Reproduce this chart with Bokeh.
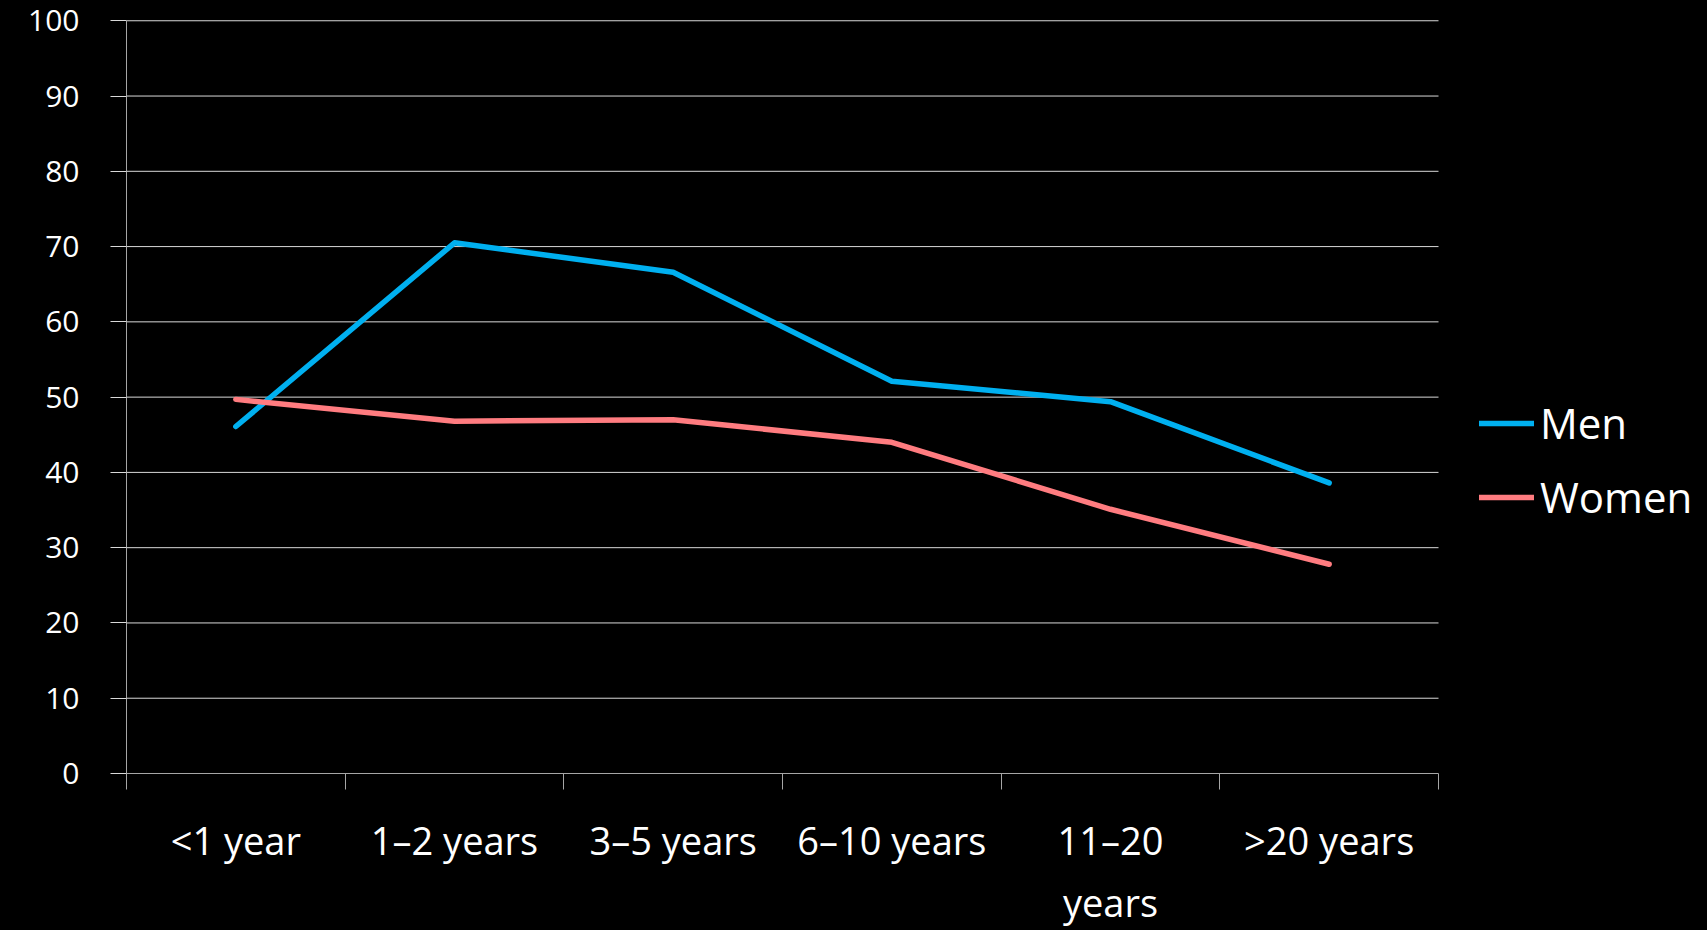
from bokeh.plotting import figure
from bokeh.models import (Range1d, FixedTicker, Legend, LegendItem,
                          GlobalInlineStyleSheet)
from bokeh.embed import file_html
from bokeh.resources import INLINE

# ---- data ----
categories = ["<1 year", "1–2 years", "3–5 years", "6–10 years", "11–20 years", ">20 years"]
tick_labels = ["<1 year", "1–2 years", "3–5 years", "6–10 years", "11–20\nyears", ">20 years"]
men = [46.1, 70.5, 66.6, 52.1, 49.4, 38.6]
women = [49.7, 46.8, 47.0, 44.0, 35.1, 27.8]
y_ticks = [0, 10, 20, 30, 40, 50, 60, 70, 80, 90, 100]

FONT = "Open Sans"
n = len(categories)
xs = [i + 0.5 for i in range(n)]

# layout: the frame runs to the right page edge so the legend can sit beside the grid
X_END = n * 1581 / 1312      # plotted area = 1312 px of a 1581 px frame
Y_END = 100.3

p = figure(width=1707, height=930, output_backend="svg", toolbar_location=None,
           x_range=Range1d(0, X_END), y_range=Range1d(0, Y_END),
           min_border_left=126, min_border_right=0,
           min_border_top=18, min_border_bottom=146)
p.stylesheets = [GlobalInlineStyleSheet(
    css="html, body { background-color: #000000; margin: 0; padding: 0; overflow: hidden; }")]

p.background_fill_color = "#000000"
p.border_fill_color = "#000000"
p.outline_line_color = None

# grid lines limited to the category span
p.xgrid.grid_line_color = None
p.ygrid.grid_line_color = None
grid_vals = [v for v in y_ticks if v > 0]
p.segment(x0=[0] * len(grid_vals), x1=[n] * len(grid_vals),
          y0=grid_vals, y1=grid_vals, line_color="#d9d9d9", line_width=1)

# y axis
ya = p.yaxis[0]
ya.ticker = FixedTicker(ticks=y_ticks)
ya.bounds = (0, 100)
ya.axis_line_color = "#a6a6a6"
ya.major_tick_line_color = "#d9d9d9"
ya.major_tick_out = 16
ya.major_tick_in = 0
ya.minor_tick_line_color = None
ya.major_label_text_color = "#ffffff"
ya.major_label_text_font = FONT
ya.major_label_text_font_size = "30px"
ya.major_label_standoff = 31

# x axis: ticks at category boundaries, labels at centres
xa = p.xaxis[0]
xa.ticker = FixedTicker(ticks=xs, minor_ticks=list(range(n + 1)))
xa.bounds = (0, n)
xa.major_label_overrides = {x: lab for x, lab in zip(xs, tick_labels)}
xa.axis_line_color = "#a6a6a6"
xa.major_tick_line_color = None
xa.major_tick_out = 0
xa.major_tick_in = 0
xa.minor_tick_line_color = "#a6a6a6"
xa.minor_tick_out = 16
xa.minor_tick_in = 0
xa.major_label_text_color = "#ffffff"
xa.major_label_text_font = FONT
xa.major_label_text_font_size = "38px"
xa.major_label_standoff = 24

r_men = p.line(xs, men, line_color="#00B0F0", line_width=5.5,
               line_cap="round", line_join="round")
r_women = p.line(xs, women, line_color="#FF7C80", line_width=5.5,
                 line_cap="round", line_join="round")

legend = Legend(items=[LegendItem(label="Men", renderers=[r_men]),
                       LegendItem(label="Women", renderers=[r_women])],
                location=(1353, 248), orientation="vertical")
legend.background_fill_alpha = 0
legend.border_line_color = None
legend.label_text_color = "#ffffff"
legend.label_text_font = FONT
legend.label_text_font_size = "42px"
legend.glyph_width = 55
legend.glyph_height = 30
legend.label_standoff = 6
legend.spacing = 17
legend.padding = 0
legend.margin = 0
p.add_layout(legend)

open("out.html", "w").write(file_html(p, INLINE))
